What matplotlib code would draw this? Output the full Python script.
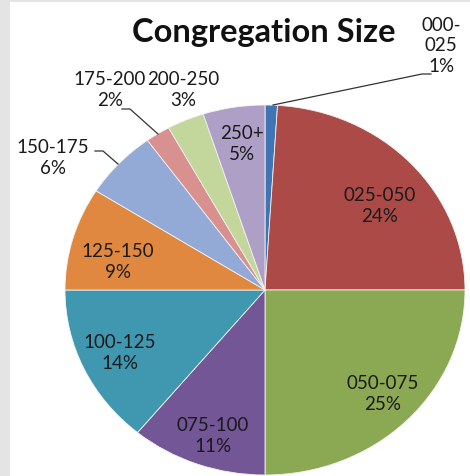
import matplotlib
matplotlib.use("Agg")
import matplotlib.pyplot as plt
from matplotlib.patches import Rectangle

plt.rcParams["font.family"] = ["Lato", "DejaVu Sans"]

# data
groups = ["000-\n025", "025-050", "050-075", "075-100", "100-125",
          "125-150", "150-175", "175-200", "200-250", "250+"]
shares = [1, 24, 25, 11, 14, 9, 6, 2, 3, 5]
colors = ["#3F75B5", "#AC4A48", "#8BA852", "#725696", "#4097B0",
          "#E0883F", "#93A9D6", "#D99190", "#C3D69B", "#AE9FC7"]

# layout, in pixels of the 470x477 picture
CX, CY, RX, RY = 265, 291, 200, 185
label_px = [(441, 46), (380, 206), (383, 394), (213, 436), (120, 353),
            (118, 262), (53, 158), (110, 90), (183, 90), (242, 144)]
leaders = {
    0: [(273, 106), (422, 75), (431, 75)],
    6: [(118, 165), (103, 152), (95, 152)],
    7: [(158, 135), (130, 110), (122, 110)],
}


def px(x, y):
    return (x - CX) / RX, (CY - y) / RY


fig = plt.figure(figsize=(4.70, 4.77), dpi=100, facecolor="#E4E4E4")
fig.patches.append(Rectangle((10 / 470, 0), 1, 474 / 477, transform=fig.transFigure,
                             facecolor="white", edgecolor="none", zorder=-5))
ax = fig.add_axes([0, 0, 1, 1])
ax.set_facecolor("none")

ax.pie(shares, colors=colors, startangle=90, counterclock=False,
       wedgeprops=dict(edgecolor="#F2F2F2", linewidth=0.6))
ax.set_aspect("auto")
x0, y0 = px(0, 477)
x1, y1 = px(470, 0)
ax.set_xlim(x0, x1)
ax.set_ylim(y0, y1)
ax.axis("off")

for i, (name, pct) in enumerate(zip(groups, shares)):
    lx, ly = px(*label_px[i])
    ax.text(lx, ly, f"{name}\n{pct}%", ha="center", va="center",
            fontsize=13.5, color="#1A1A1A", linespacing=1.25, clip_on=False)

for pts in leaders.values():
    xy = [px(*p) for p in pts]
    ax.plot([p[0] for p in xy], [p[1] for p in xy], color="#333333", lw=0.9,
            clip_on=False)

tx, ty = px(264, 33)
ax.text(tx, ty, "Congregation Size", ha="center", va="center",
        fontsize=23.5, fontweight="bold", color="#111111")

fig.savefig("out.png", dpi=100)
